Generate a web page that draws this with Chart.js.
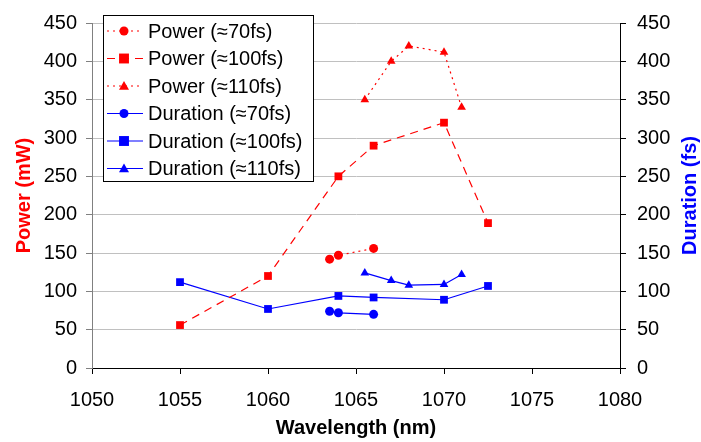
<!DOCTYPE html>
<html>
<head>
<meta charset="utf-8">
<script src="https://cdn.jsdelivr.net/npm/chart.js@4"></script>
<style>
html,body{margin:0;padding:0;background:#fff;}
#wrap{width:701px;height:442px;position:relative;}
</style>
</head>
<body>
<div id="wrap"><canvas id="c"></canvas></div>
<script>
// ---- data ----
const power70X = [1063.5, 1064, 1066];
const power70Y = [142, 147, 156];
const power100X = [1055, 1060, 1064, 1066, 1070, 1072.5];
const power100Y = [56, 120, 250, 290, 320, 189];
const power110X = [1065.5, 1067, 1068, 1070, 1071];
const power110Y = [350, 400, 420, 412, 340];
const dur70X = [1063.5, 1064, 1066];
const dur70Y = [74, 72, 70];
const dur100X = [1055, 1060, 1064, 1066, 1070, 1072.5];
const dur100Y = [112, 77, 94, 92, 89, 107];
const dur110X = [1065.5, 1067, 1068, 1070, 1071];
const dur110Y = [124, 114, 108, 109, 122];
const xTicksMin = 1050, xTicksMax = 1080, xStep = 5;
const yMin = 0, yMax = 450, yStep = 50;
const seriesLabels = ['Power (\u224870fs)','Power (\u2248100fs)','Power (\u2248110fs)','Duration (\u224870fs)','Duration (\u2248100fs)','Duration (\u2248110fs)'];
const xTitle = 'Wavelength (nm)';
const yTitle = 'Power (mW)';
const y2Title = 'Duration (fs)';

function pts(xs, ys){ return xs.map((x,i)=>({x:x, y:ys[i]})); }

const RED = '#FF0000', BLUE = '#0000FF';
const FONT = "'Liberation Sans', Arial, sans-serif";

const datasets = [
  {label: seriesLabels[0], data: pts(power70X, power70Y), yAxisID:'y', borderColor:RED, backgroundColor:RED, borderWidth:1.2, borderDash:[2,4], pointStyle:'circle', pointRadius:4.5},
  {label: seriesLabels[1], data: pts(power100X, power100Y), yAxisID:'y', borderColor:RED, backgroundColor:RED, borderWidth:1.2, borderDash:[8,6], pointStyle:'rect', pointRadius:5.5},
  {label: seriesLabels[2], data: pts(power110X, power110Y), yAxisID:'y', borderColor:RED, backgroundColor:RED, borderWidth:1.2, borderDash:[2,4], pointStyle:'triangle', pointRadius:5},
  {label: seriesLabels[3], data: pts(dur70X, dur70Y), yAxisID:'y2', borderColor:BLUE, backgroundColor:BLUE, borderWidth:1.2, borderDash:[], pointStyle:'circle', pointRadius:4.5},
  {label: seriesLabels[4], data: pts(dur100X, dur100Y), yAxisID:'y2', borderColor:BLUE, backgroundColor:BLUE, borderWidth:1.2, borderDash:[], pointStyle:'rect', pointRadius:5.5},
  {label: seriesLabels[5], data: pts(dur110X, dur110Y), yAxisID:'y2', borderColor:BLUE, backgroundColor:BLUE, borderWidth:1.2, borderDash:[], pointStyle:'triangle', pointRadius:5}
];
datasets.forEach(d=>{ d.pointBorderWidth = 0; d.pointHoverRadius = d.pointRadius; d.fill=false; d.tension=0; });

function drawMarker(ctx, style, x, y, r, color){
  ctx.save();
  ctx.fillStyle = color;
  ctx.beginPath();
  if (style === 'circle') { ctx.arc(x, y, r, 0, Math.PI*2); }
  else if (style === 'rect') { const s = r*0.9; ctx.rect(x-s, y-s, 2*s, 2*s); }
  else { ctx.moveTo(x, y-r); ctx.lineTo(x+r, y+r*0.75); ctx.lineTo(x-r, y+r*0.75); ctx.closePath(); }
  ctx.fill();
  ctx.restore();
}

const legendPlugin = {
  id: 'boxLegend',
  afterDraw(chart){
    const ctx = chart.ctx;
    const bx = 103.5, by = 15.5, bw = 210, bh = 166;
    ctx.save();
    ctx.fillStyle = '#fff';
    ctx.fillRect(bx, by, bw, bh);
    ctx.strokeStyle = '#000';
    ctx.lineWidth = 1;
    ctx.strokeRect(bx, by, bw, bh);
    ctx.font = '20px ' + FONT;
    ctx.textBaseline = 'middle';
    ctx.textAlign = 'left';
    chart.data.datasets.forEach((d, i) => {
      const cy = 31 + i * 27.5;
      ctx.save();
      ctx.strokeStyle = d.borderColor;
      ctx.lineWidth = d.borderWidth;
      ctx.setLineDash(d.borderDash || []);
      ctx.beginPath();
      ctx.moveTo(107, cy); ctx.lineTo(143, cy);
      ctx.stroke();
      ctx.restore();
      drawMarker(ctx, d.pointStyle, 124, cy, d.pointRadius, d.backgroundColor);
      ctx.fillStyle = '#000';
      ctx.fillText(d.label, 148, cy + 1);
    });
    // right axis title, reading bottom-to-top
    const a = chart.chartArea;
    ctx.save();
    ctx.translate(690, (a.top + a.bottom) / 2);
    ctx.rotate(-Math.PI / 2);
    ctx.font = 'bold 20px ' + FONT;
    ctx.fillStyle = BLUE;
    ctx.textAlign = 'center';
    ctx.textBaseline = 'middle';
    ctx.fillText(y2Title, 0, 0);
    ctx.restore();
    ctx.restore();
  }
};

new Chart(document.getElementById('c'), {
  type: 'line',
  data: { datasets },
  plugins: [legendPlugin],
  options: {
    responsive: true,
    maintainAspectRatio: false,
    animation: false,
    events: [],
    layout: { padding: { top: 14, left: 0, right: 0, bottom: 0 } },
    plugins: { legend: { display: false }, tooltip: { enabled: false } },
    scales: {
      x: {
        type: 'linear', min: xTicksMin, max: xTicksMax,
        ticks: { stepSize: xStep, color: '#000', font: { family: FONT, size: 20 }, padding: 14, maxRotation: 0,
                 callback: v => String(v) },
        grid: { drawOnChartArea: false, tickLength: 6, color: '#000' },
        border: { color: '#000', width: 1 },
        title: { display: true, text: xTitle, color: '#000', font: { family: FONT, size: 20, weight: 'bold' }, padding: { top: 0, bottom: 2 } },
        afterFit(s){ s.height = 74; }
      },
      y: {
        position: 'left', min: yMin, max: yMax,
        ticks: { stepSize: yStep, color: '#000', font: { family: FONT, size: 20 }, padding: 9 },
        grid: { color: '#c0c0c0', tickColor: '#808080', tickLength: 6 },
        border: { color: '#808080', width: 1 },
        title: { display: true, text: yTitle, color: RED, font: { family: FONT, size: 20, weight: 'bold' }, padding: { top: 12, bottom: 0 } },
        afterFit(s){ s.width = 92; }
      },
      y2: {
        position: 'right', min: yMin, max: yMax,
        ticks: { stepSize: yStep, color: '#000', font: { family: FONT, size: 20 }, padding: 11 },
        grid: { drawOnChartArea: false, color: '#000', tickLength: 6 },
        border: { color: '#000', width: 1 },
        title: { display: false },
        afterFit(s){ s.width = 81; }
      }
    }
  }
});
</script>
</body>
</html>
